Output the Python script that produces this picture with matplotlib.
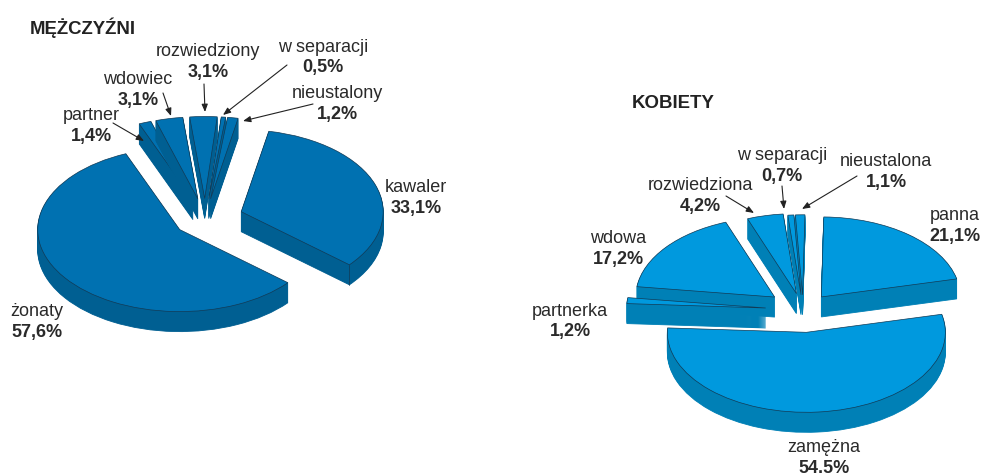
#!/usr/bin/env python3

import numpy as np
import matplotlib as mpl
mpl.use('Agg')
mpl.rcParams.update({
    'font.family': ['Liberation Sans', 'DejaVu Sans'],
    'font.size': 13,
})

import matplotlib.pyplot as plt


W, H = 982, 477

MEN_LABELS = ['kawaler', 'żonaty', 'partner', 'wdowiec', 'rozwiedziony',
              'w separacji', 'nieustalony']
MEN_VALUES = [33.1, 57.6, 1.4, 3.1, 3.1, 0.5, 1.2]
MEN_VALUE_TEXT = ['33,1%', '57,6%', '1,4%', '3,1%', '3,1%', '0,5%', '1,2%']

WOMEN_LABELS = ['panna', 'zamężna', 'partnerka', 'wdowa', 'rozwiedziona',
                'w separacji', 'nieustalona']
WOMEN_VALUES = [21.1, 54.5, 1.2, 17.2, 4.2, 0.7, 1.1]
WOMEN_VALUE_TEXT = ['21,1%', '54.5%', '1,2%', '17,2%', '4,2%', '0,7%', '1,1%']

# label centres in picture pixels, same order as the labels
MEN_TEXT_POS = [(416, 188), (37, 312), (91, 116), (138, 80), (208, 52),
                (323, 47), (337, 94)]
WOMEN_TEXT_POS = [(955, 216), (824, 448), (570, 311), (618, 239), (700, 186),
                  (782, 156), (886, 162)]

MEN_ARROWS = [((113, 124), (144, 142)), ((163, 94), (171, 117)),
              ((204, 85), (205, 113)), ((287, 66), (223, 116)),
              ((313, 105), (243, 122))]
WOMEN_ARROWS = [((726, 197), (754, 214)), ((782, 187), (784, 210)),
                ((857, 177), (802, 210))]


def px(x, y):
    return (x, H - y)


def draw_pie(fig, values, center, rx, ry, depth, start, explode, order, top, side):
    cx, cy = center
    ax = fig.add_axes([0, 0, 1, 1])
    ax.patch.set_alpha(0)
    layers = np.linspace(depth / ry, 0, int(depth) + 1)
    for n, drop in enumerate(layers):
        is_top = n == len(layers) - 1
        wedges, _ = ax.pie(values, explode=explode, startangle=start,
                           counterclock=False, radius=1, center=(0, -drop),
                           colors=[top if is_top else side] * len(values))
        for i, wedge in enumerate(wedges):
            wedge.set_zorder(order[i] * 100 + n)
            if is_top:
                wedge.set_edgecolor('#123a55')
                wedge.set_linewidth(0.5)
            else:
                # a thin edge so the sharp tips of small slices stay solid
                wedge.set_edgecolor(side)
                wedge.set_linewidth(0.6)
    # edge where two side faces meet at the rim
    for i, wedge in enumerate(wedges):
        t = np.radians(wedge.theta1)
        if np.sin(t) < 0 and np.cos(t) > 0:
            x = wedge.center[0] + np.cos(t)
            y = wedge.center[1] + np.sin(t)
            ax.plot([x, x], [y, y - depth / ry], color='#123a55', lw=0.5,
                    zorder=order[i] * 100 + len(layers))
    ax.set_aspect('auto')
    ax.set_xlim((0 - cx) / rx, (W - cx) / rx)
    ax.set_ylim((cy - H) / ry, cy / ry)
    ax.axis('off')


def add_labels(fig, labels, value_text, positions):
    for label, val, (x, y) in zip(labels, value_text, positions):
        fig.text(x / W, 1 - y / H, label, ha='center', va='center', color='#2a2a2a')
        fig.text(x / W, 1 - (y + 20.5) / H, val, ha='center', va='center',
                 color='#2a2a2a', fontweight='bold')


def add_arrows(ax, arrows):
    for start, end in arrows:
        ax.annotate('', xy=px(*end), xytext=px(*start),
                    xycoords='figure pixels', textcoords='figure pixels',
                    arrowprops=dict(arrowstyle='-|>,head_length=0.35,head_width=0.14',
                                    color='#222222', lw=0.8,
                                    shrinkA=0, shrinkB=0))


fig = plt.figure(figsize=(W / 100, H / 100), dpi=100, facecolor='white')

draw_pie(fig, MEN_VALUES, (205, 220), 142, 82, 20, 78.8,
         [0.27, 0.22, 0.25, 0.25, 0.25, 0.25, 0.25],
         [2, 1, 3, 4, 5, 6, 7], '#0071b1', '#005f92')
draw_pie(fig, WOMEN_VALUES, (803, 311), 139, 80, 20, 89,
         [0.21, 0.28, 0.27, 0.26, 0.21, 0.19, 0.19],
         [2, 1, 6, 5, 4, 3, 3], '#0099de', '#0080b6')

overlay = fig.add_axes([0, 0, 1, 1])
overlay.patch.set_alpha(0)
overlay.axis('off')

add_labels(fig, MEN_LABELS, MEN_VALUE_TEXT, MEN_TEXT_POS)
add_labels(fig, WOMEN_LABELS, WOMEN_VALUE_TEXT, WOMEN_TEXT_POS)
add_arrows(overlay, MEN_ARROWS)
add_arrows(overlay, WOMEN_ARROWS)

fig.text(30 / W, 1 - 28 / H, 'MĘŻCZYŹNI', ha='left', va='center',
         color='#222222', fontweight='bold', fontsize=13.4)
fig.text(632 / W, 1 - 103 / H, 'KOBIETY', ha='left', va='center',
         color='#222222', fontweight='bold', fontsize=13.4)

fig.savefig('out.png', dpi=100)
